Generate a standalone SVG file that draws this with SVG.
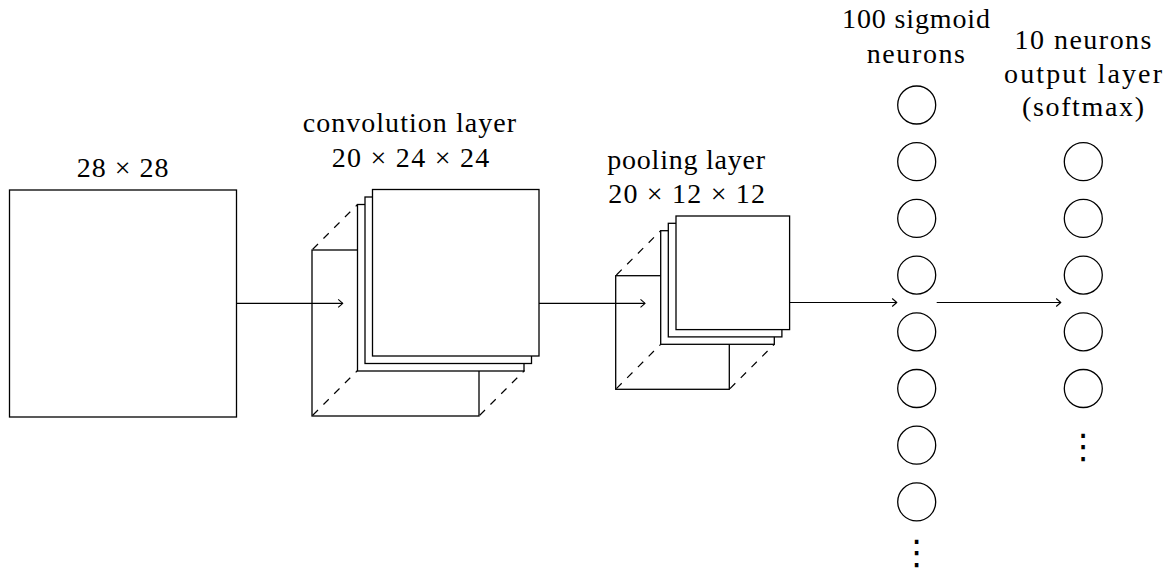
<svg xmlns="http://www.w3.org/2000/svg" width="1168" height="573" viewBox="0 0 1168 573">
<style>
  .t{font-family:"Liberation Serif","Times New Roman",serif;font-size:28px;fill:#000}
  .box{fill:#fff;stroke:#000;stroke-width:1.3}
  .back{fill:none;stroke:#000;stroke-width:1.3}
  .dash{fill:none;stroke:#000;stroke-width:1.2;stroke-dasharray:7.5 7.7;stroke-dashoffset:14.2}
  .conn{fill:none;stroke:#000;stroke-width:1.2;marker-end:url(#arr)}
  .neuron{fill:#fff;stroke:#000;stroke-width:1.3}
  .dots{font-family:"DejaVu Serif","DejaVu Sans",serif;font-size:34px;fill:#000;text-anchor:middle}
</style>
<defs>
  <marker id="arr" viewBox="-6 -5 7 10" markerWidth="7" markerHeight="10" refX="0" refY="0" orient="auto" markerUnits="userSpaceOnUse">
    <path d="M-4.5,-4 Q-1,-1 0,0 Q-1,1 -4.5,4" fill="none" stroke="#000" stroke-width="1.1"/>
  </marker>
</defs>

<g id="input">
  <rect class="box" x="9.5" y="190" width="227" height="227"/>
  <text class="t" x="76.7" y="177" textLength="91.7" lengthAdjust="spacing">28 × 28</text>
</g>

<g id="conv">
  <rect class="back" x="312" y="250" width="167" height="166"/>
  <line class="dash" x1="312" y1="250" x2="357.5" y2="204.5"/>
  <line class="dash" x1="312" y1="416" x2="357.5" y2="370.5"/>
  <line class="dash" x1="479" y1="416" x2="524.5" y2="370.5"/>
  <rect class="box" x="357.5" y="204.5" width="166.5" height="166.5"/>
  <rect class="box" x="365" y="197" width="166.5" height="166.5"/>
  <rect class="box" x="372.5" y="189.5" width="166.5" height="166.5"/>
  <text class="t" x="302.7" y="132" textLength="213.3" lengthAdjust="spacing">convolution layer</text>
  <text class="t" x="331.7" y="167" textLength="157.6" lengthAdjust="spacing">20 × 24 × 24</text>
</g>

<g id="pool">
  <rect class="back" x="615.7" y="275.7" width="113.6" height="113.6"/>
  <line class="dash" x1="615.7" y1="275.7" x2="660.7" y2="230.7"/>
  <line class="dash" x1="615.7" y1="389.3" x2="660.7" y2="344.3"/>
  <line class="dash" x1="729.3" y1="389.3" x2="774.3" y2="344.3"/>
  <rect class="box" x="660.7" y="230.7" width="113.6" height="113.6"/>
  <rect class="box" x="668.3" y="223.3" width="113.6" height="113.6"/>
  <rect class="box" x="676" y="216" width="113.6" height="113.6"/>
  <text class="t" x="607.3" y="169" textLength="157.7" lengthAdjust="spacing">pooling layer</text>
  <text class="t" x="608.3" y="203" textLength="156.7" lengthAdjust="spacing">20 × 12 × 12</text>
</g>

<g id="hidden">
  <text class="t" x="842" y="28" textLength="148" lengthAdjust="spacing">100 sigmoid</text>
  <text class="t" x="866.7" y="63" textLength="98.3" lengthAdjust="spacing">neurons</text>
  <circle class="neuron" cx="916.7" cy="105" r="19"/>
  <circle class="neuron" cx="916.7" cy="161.7" r="19"/>
  <circle class="neuron" cx="916.7" cy="218.4" r="19"/>
  <circle class="neuron" cx="916.7" cy="275.1" r="19"/>
  <circle class="neuron" cx="916.7" cy="331.8" r="19"/>
  <circle class="neuron" cx="916.7" cy="388.5" r="19"/>
  <circle class="neuron" cx="916.7" cy="445.2" r="19"/>
  <circle class="neuron" cx="916.7" cy="501.9" r="19"/>
  <text class="dots" x="916.7" y="564">⋮</text>
</g>

<g id="output">
  <text class="t" x="1014.5" y="49" textLength="137" lengthAdjust="spacing">10 neurons</text>
  <text class="t" x="1004" y="83" textLength="158" lengthAdjust="spacing">output layer</text>
  <text class="t" x="1022" y="116" textLength="122" lengthAdjust="spacing">(softmax)</text>
  <circle class="neuron" cx="1083.3" cy="161.7" r="19"/>
  <circle class="neuron" cx="1083.3" cy="218.4" r="19"/>
  <circle class="neuron" cx="1083.3" cy="275.1" r="19"/>
  <circle class="neuron" cx="1083.3" cy="331.8" r="19"/>
  <circle class="neuron" cx="1083.3" cy="388.5" r="19"/>
  <text class="dots" x="1083.3" y="458">⋮</text>
</g>

<g id="connectors">
  <line class="conn" x1="236.5" y1="303.3" x2="342.7" y2="303.3"/>
  <line class="conn" x1="539" y1="303.3" x2="645" y2="303.3"/>
  <line class="conn" x1="789.6" y1="302.5" x2="896.7" y2="302.5"/>
  <line class="conn" x1="936.7" y1="302.5" x2="1060.7" y2="302.5"/>
</g>
</svg>
